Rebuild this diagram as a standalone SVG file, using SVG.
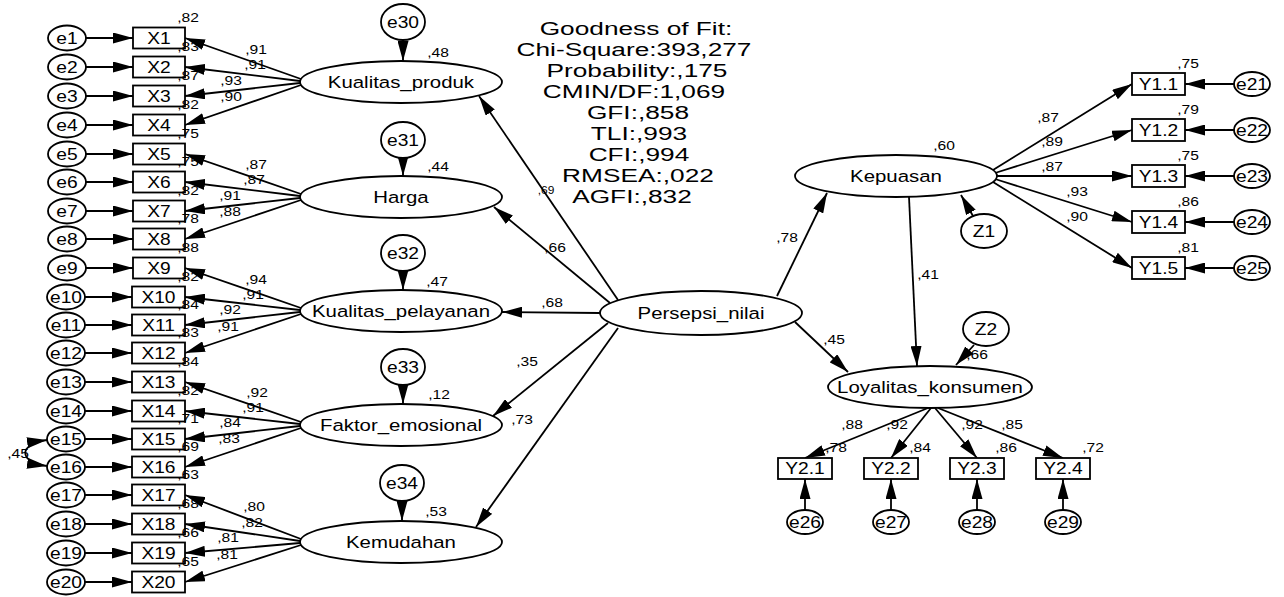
<svg xmlns="http://www.w3.org/2000/svg" width="1284" height="597" viewBox="0 0 1284 597">
<defs>
<marker id="ah" viewBox="0 0 20 11" refX="20" refY="5.5" markerWidth="20" markerHeight="11" orient="auto-start-reverse" markerUnits="userSpaceOnUse"><path d="M0,0 L20,5.5 L0,11 z" fill="#000"/></marker>
<style>
.n{fill:#fff;stroke:#000;stroke-width:1.8}
.c{fill:none;stroke:#000;stroke-width:1.8;marker-end:url(#ah)}
.cc{fill:none;stroke:#000;stroke-width:1.8;marker-start:url(#ah);marker-end:url(#ah)}
text{font-family:"Liberation Sans",Arial,sans-serif;fill:#000;text-anchor:middle;transform-box:fill-box;transform-origin:center;transform:scaleX(1.2)}
.sm{font-size:13px}
.nm{font-size:16px}
.lt{font-size:17px}
.gof text{font-size:18.5px;transform:scaleX(1.42)}
</style>
</defs>
<rect width="1284" height="597" fill="#fff"/>

<g id="connectors">
<path class="c" d="M86,38 H133"/><path class="c" d="M86,67 H133"/><path class="c" d="M86,96 H133"/><path class="c" d="M86,125 H133"/>
<path class="c" d="M86,154 H133"/><path class="c" d="M86,182 H133"/><path class="c" d="M86,211 H133"/><path class="c" d="M86,239 H133"/>
<path class="c" d="M86,268 H133"/><path class="c" d="M85,297 H132"/><path class="c" d="M85,325 H132"/><path class="c" d="M85,353 H132"/>
<path class="c" d="M85,382 H132"/><path class="c" d="M85,411 H132"/><path class="c" d="M85,439 H132"/><path class="c" d="M85,467 H132"/>
<path class="c" d="M85,495 H132"/><path class="c" d="M85,524 H132"/><path class="c" d="M85,553 H132"/><path class="c" d="M85,582 H132"/>
<path class="c" d="M301,79 L185,38"/><path class="c" d="M300,81 L185,67"/><path class="c" d="M300,83 L185,96"/><path class="c" d="M301,85 L185,125"/>
<path class="c" d="M301,194 L185,154"/><path class="c" d="M300,196 L185,182"/><path class="c" d="M300,198 L185,211"/><path class="c" d="M301,200 L185,239"/>
<path class="c" d="M301,308 L185,268"/><path class="c" d="M300,310 L185,297"/><path class="c" d="M300,312 L185,325"/><path class="c" d="M301,314 L185,353"/>
<path class="c" d="M301,422 L185,382"/><path class="c" d="M300,424 L185,411"/><path class="c" d="M300,426 L185,439"/><path class="c" d="M301,428 L185,467"/>
<path class="c" d="M301,539 L185,495"/><path class="c" d="M300,541 L185,524"/><path class="c" d="M300,543 L185,553"/><path class="c" d="M301,545 L185,582"/>
<path class="cc" d="M47,440 C18,444 18,462 47,466"/>
<path class="c" d="M403,40 V61"/>
<path class="c" d="M403,158 V176"/>
<path class="c" d="M403,271 V290"/>
<path class="c" d="M403,385 V404"/>
<path class="c" d="M402,501 V521"/>
<path class="c" d="M618,300 L479,96"/>
<path class="c" d="M610,303 L494,207"/>
<path class="c" d="M600,313 L502,312"/>
<path class="c" d="M608,323 L493,416"/>
<path class="c" d="M618,328 L476,527"/>
<path class="c" d="M777,296 L827,193"/>
<path class="c" d="M795,322 L848,372"/>
<path class="c" d="M909,197 L917,366"/>
<path class="c" d="M973,216 L961,195"/>
<path class="c" d="M974,345 L956,365"/>
<path class="c" d="M993,170 L1132,84"/>
<path class="c" d="M995,173 L1132,130"/>
<path class="c" d="M997,176 L1132,176"/>
<path class="c" d="M995,179 L1132,222"/>
<path class="c" d="M993,182 L1132,268"/>
<path class="c" d="M1234,84 H1185"/><path class="c" d="M1234,130 H1185"/><path class="c" d="M1234,176 H1185"/><path class="c" d="M1234,222 H1185"/><path class="c" d="M1234,268 H1185"/>
<path class="c" d="M928,408 L805,458"/>
<path class="c" d="M931,408 L891,458"/>
<path class="c" d="M935,408 L977,458"/>
<path class="c" d="M938,408 L1063,458"/>
<path class="c" d="M805,510 V479"/><path class="c" d="M891,510 V479"/><path class="c" d="M977,510 V479"/><path class="c" d="M1063,510 V479"/>

<g class="sm">
<text x="256" y="54">,91</text><text x="255" y="69">,91</text><text x="231" y="85">,93</text><text x="231" y="101">,90</text>
<text x="256" y="169">,87</text><text x="254" y="184">,87</text><text x="230" y="200">,91</text><text x="230" y="216">,88</text>
<text x="256" y="284">,94</text><text x="253" y="299">,91</text><text x="230" y="314">,92</text><text x="228" y="331">,91</text>
<text x="257" y="397">,92</text><text x="253" y="412">,91</text><text x="230" y="427">,84</text><text x="229" y="443">,83</text>
<text x="254" y="511">,80</text><text x="252" y="527">,82</text><text x="228" y="542">,81</text><text x="227" y="559">,81</text>
<text x="18" y="458">,45</text>
<text x="555" y="252">,66</text>
<text x="552" y="307">,68</text>
<text x="527" y="366">,35</text>
<text x="522" y="424">,73</text>
<text x="787" y="242">,78</text>
<text x="928" y="279">,41</text>
<text x="834" y="344">,45</text>
<text x="1048" y="122">,87</text><text x="1052" y="146">,89</text><text x="1052" y="171">,87</text><text x="1077" y="196">,93</text><text x="1077" y="221">,90</text>
<text x="852" y="429">,88</text><text x="897" y="429">,92</text><text x="972" y="429">,92</text><text x="1012" y="429">,85</text>
</g>
<text x="546" y="194" style="font-size:10px">,69</text>
</g>

<g id="gof" class="gof">
<text x="636" y="35">Goodness of Fit:</text>
<text x="634" y="56">Chi-Square:393,277</text>
<text x="637" y="77">Probability:,175</text>
<text x="634" y="98">CMIN/DF:1,069</text>
<text x="638" y="119">GFI:,858</text>
<text x="639" y="140">TLI:,993</text>
<text x="639" y="161">CFI:,994</text>
<text x="638" y="182">RMSEA:,022</text>
<text x="632" y="203">AGFI:,832</text>
</g>

<g id="e1"><ellipse class="n" cx="67" cy="38" rx="19" ry="12.5"/><text class="nm" x="67" y="44">e1</text></g>
<g id="e2"><ellipse class="n" cx="67" cy="67" rx="19" ry="12.5"/><text class="nm" x="67" y="73">e2</text></g>
<g id="e3"><ellipse class="n" cx="67" cy="96" rx="19" ry="12.5"/><text class="nm" x="67" y="102">e3</text></g>
<g id="e4"><ellipse class="n" cx="67" cy="125" rx="19" ry="12.5"/><text class="nm" x="67" y="131">e4</text></g>
<g id="e5"><ellipse class="n" cx="67" cy="154" rx="19" ry="12.5"/><text class="nm" x="67" y="160">e5</text></g>
<g id="e6"><ellipse class="n" cx="67" cy="182" rx="19" ry="12.5"/><text class="nm" x="67" y="188">e6</text></g>
<g id="e7"><ellipse class="n" cx="67" cy="211" rx="19" ry="12.5"/><text class="nm" x="67" y="217">e7</text></g>
<g id="e8"><ellipse class="n" cx="67" cy="239" rx="19" ry="12.5"/><text class="nm" x="67" y="245">e8</text></g>
<g id="e9"><ellipse class="n" cx="67" cy="268" rx="19" ry="12.5"/><text class="nm" x="67" y="274">e9</text></g>
<g id="e10"><ellipse class="n" cx="66" cy="297" rx="19" ry="12.5"/><text class="nm" x="66" y="303">e10</text></g>
<g id="e11"><ellipse class="n" cx="66" cy="325" rx="19" ry="12.5"/><text class="nm" x="66" y="331">e11</text></g>
<g id="e12"><ellipse class="n" cx="66" cy="353" rx="19" ry="12.5"/><text class="nm" x="66" y="359">e12</text></g>
<g id="e13"><ellipse class="n" cx="66" cy="382" rx="19" ry="12.5"/><text class="nm" x="66" y="388">e13</text></g>
<g id="e14"><ellipse class="n" cx="66" cy="411" rx="19" ry="12.5"/><text class="nm" x="66" y="417">e14</text></g>
<g id="e15"><ellipse class="n" cx="66" cy="439" rx="19" ry="12.5"/><text class="nm" x="66" y="445">e15</text></g>
<g id="e16"><ellipse class="n" cx="66" cy="467" rx="19" ry="12.5"/><text class="nm" x="66" y="473">e16</text></g>
<g id="e17"><ellipse class="n" cx="66" cy="495" rx="19" ry="12.5"/><text class="nm" x="66" y="501">e17</text></g>
<g id="e18"><ellipse class="n" cx="66" cy="524" rx="19" ry="12.5"/><text class="nm" x="66" y="530">e18</text></g>
<g id="e19"><ellipse class="n" cx="66" cy="553" rx="19" ry="12.5"/><text class="nm" x="66" y="559">e19</text></g>
<g id="e20"><ellipse class="n" cx="66" cy="582" rx="19" ry="12.5"/><text class="nm" x="66" y="588">e20</text></g>

<g id="X1"><rect class="n" x="133" y="27.5" width="52" height="21"/><text class="nm" x="159" y="44">X1</text><text class="sm" x="188" y="22">,82</text></g>
<g id="X2"><rect class="n" x="133" y="56.5" width="52" height="21"/><text class="nm" x="159" y="73">X2</text><text class="sm" x="188" y="51">,83</text></g>
<g id="X3"><rect class="n" x="133" y="85.5" width="52" height="21"/><text class="nm" x="159" y="102">X3</text><text class="sm" x="188" y="80">,87</text></g>
<g id="X4"><rect class="n" x="133" y="114.5" width="52" height="21"/><text class="nm" x="159" y="131">X4</text><text class="sm" x="188" y="109">,82</text></g>
<g id="X5"><rect class="n" x="133" y="143.5" width="52" height="21"/><text class="nm" x="159" y="160">X5</text><text class="sm" x="188" y="138">,75</text></g>
<g id="X6"><rect class="n" x="133" y="171.5" width="52" height="21"/><text class="nm" x="159" y="188">X6</text><text class="sm" x="188" y="166">,75</text></g>
<g id="X7"><rect class="n" x="133" y="200.5" width="52" height="21"/><text class="nm" x="159" y="217">X7</text><text class="sm" x="188" y="195">,82</text></g>
<g id="X8"><rect class="n" x="133" y="228.5" width="52" height="21"/><text class="nm" x="159" y="245">X8</text><text class="sm" x="188" y="223">,78</text></g>
<g id="X9"><rect class="n" x="133" y="257.5" width="52" height="21"/><text class="nm" x="159" y="274">X9</text><text class="sm" x="188" y="252">,88</text></g>
<g id="X10"><rect class="n" x="132" y="286.5" width="53" height="21"/><text class="nm" x="158.5" y="303">X10</text><text class="sm" x="188" y="281">,82</text></g>
<g id="X11"><rect class="n" x="132" y="314.5" width="53" height="21"/><text class="nm" x="158.5" y="331">X11</text><text class="sm" x="188" y="309">,84</text></g>
<g id="X12"><rect class="n" x="132" y="342.5" width="53" height="21"/><text class="nm" x="158.5" y="359">X12</text><text class="sm" x="188" y="337">,83</text></g>
<g id="X13"><rect class="n" x="132" y="371.5" width="53" height="21"/><text class="nm" x="158.5" y="388">X13</text><text class="sm" x="188" y="366">,84</text></g>
<g id="X14"><rect class="n" x="132" y="400.5" width="53" height="21"/><text class="nm" x="158.5" y="417">X14</text><text class="sm" x="188" y="395">,82</text></g>
<g id="X15"><rect class="n" x="132" y="428.5" width="53" height="21"/><text class="nm" x="158.5" y="445">X15</text><text class="sm" x="188" y="423">,71</text></g>
<g id="X16"><rect class="n" x="132" y="456.5" width="53" height="21"/><text class="nm" x="158.5" y="473">X16</text><text class="sm" x="188" y="451">,69</text></g>
<g id="X17"><rect class="n" x="132" y="484.5" width="53" height="21"/><text class="nm" x="158.5" y="501">X17</text><text class="sm" x="188" y="479">,63</text></g>
<g id="X18"><rect class="n" x="132" y="513.5" width="53" height="21"/><text class="nm" x="158.5" y="530">X18</text><text class="sm" x="188" y="508">,68</text></g>
<g id="X19"><rect class="n" x="132" y="542.5" width="53" height="21"/><text class="nm" x="158.5" y="559">X19</text><text class="sm" x="188" y="537">,66</text></g>
<g id="X20"><rect class="n" x="132" y="571.5" width="53" height="21"/><text class="nm" x="158.5" y="588">X20</text><text class="sm" x="188" y="566">,65</text></g>

<g id="e30"><ellipse class="n" cx="403" cy="22" rx="22" ry="18"/><text class="nm" x="403" y="28">e30</text></g>
<g id="e31"><ellipse class="n" cx="403" cy="140" rx="22" ry="18"/><text class="nm" x="403" y="146">e31</text></g>
<g id="e32"><ellipse class="n" cx="403" cy="253" rx="22" ry="18"/><text class="nm" x="403" y="259">e32</text></g>
<g id="e33"><ellipse class="n" cx="403" cy="367" rx="22" ry="18"/><text class="nm" x="403" y="373">e33</text></g>
<g id="e34"><ellipse class="n" cx="402" cy="483" rx="22" ry="18"/><text class="nm" x="402" y="489">e34</text></g>

<g id="Kualitas_produk"><ellipse class="n" cx="401" cy="82" rx="101" ry="21"/><text class="lt" x="401" y="88">Kualitas_produk</text><text class="sm" x="438" y="57">,48</text></g>
<g id="Harga"><ellipse class="n" cx="401" cy="197" rx="101" ry="21"/><text class="lt" x="401" y="203">Harga</text><text class="sm" x="438" y="171">,44</text></g>
<g id="Kualitas_pelayanan"><ellipse class="n" cx="401" cy="311" rx="101" ry="21"/><text class="lt" x="401" y="317">Kualitas_pelayanan</text><text class="sm" x="437" y="286">,47</text></g>
<g id="Faktor_emosional"><ellipse class="n" cx="401" cy="425" rx="101" ry="21"/><text class="lt" x="401" y="431">Faktor_emosional</text><text class="sm" x="439" y="399">,12</text></g>
<g id="Kemudahan"><ellipse class="n" cx="401" cy="542" rx="101" ry="21"/><text class="lt" x="401" y="548">Kemudahan</text><text class="sm" x="436" y="516">,53</text></g>

<g id="Persepsi_nilai"><ellipse class="n" cx="701" cy="313" rx="101" ry="22"/><text class="lt" x="701" y="319">Persepsi_nilai</text></g>

<g id="Kepuasan"><ellipse class="n" cx="896" cy="176" rx="101" ry="21"/><text class="lt" x="896" y="182">Kepuasan</text><text class="sm" x="944" y="150">,60</text></g>
<g id="Z1"><ellipse class="n" cx="984" cy="231" rx="23" ry="17"/><text class="nm" x="984" y="237">Z1</text></g>
<g id="Loyalitas_konsumen"><ellipse class="n" cx="930" cy="387" rx="102" ry="21"/><text class="lt" x="930" y="393">Loyalitas_konsumen</text><text class="sm" x="977" y="359">,66</text></g>
<g id="Z2"><ellipse class="n" cx="986" cy="329" rx="23" ry="17"/><text class="nm" x="986" y="335">Z2</text></g>

<g id="Y1.1"><rect class="n" x="1132" y="73" width="53" height="22"/><text class="nm" x="1158.5" y="90">Y1.1</text><text class="sm" x="1188" y="68">,75</text></g>
<g id="Y1.2"><rect class="n" x="1132" y="119" width="53" height="22"/><text class="nm" x="1158.5" y="136">Y1.2</text><text class="sm" x="1188" y="114">,79</text></g>
<g id="Y1.3"><rect class="n" x="1132" y="165" width="53" height="22"/><text class="nm" x="1158.5" y="182">Y1.3</text><text class="sm" x="1188" y="160">,75</text></g>
<g id="Y1.4"><rect class="n" x="1132" y="211" width="53" height="22"/><text class="nm" x="1158.5" y="228">Y1.4</text><text class="sm" x="1188" y="206">,86</text></g>
<g id="Y1.5"><rect class="n" x="1132" y="257" width="53" height="22"/><text class="nm" x="1158.5" y="274">Y1.5</text><text class="sm" x="1188" y="252">,81</text></g>
<g id="e21"><ellipse class="n" cx="1252" cy="84" rx="18" ry="12"/><text class="nm" x="1252" y="90">e21</text></g>
<g id="e22"><ellipse class="n" cx="1252" cy="130" rx="18" ry="12"/><text class="nm" x="1252" y="136">e22</text></g>
<g id="e23"><ellipse class="n" cx="1252" cy="176" rx="18" ry="12"/><text class="nm" x="1252" y="182">e23</text></g>
<g id="e24"><ellipse class="n" cx="1252" cy="222" rx="18" ry="12"/><text class="nm" x="1252" y="228">e24</text></g>
<g id="e25"><ellipse class="n" cx="1252" cy="268" rx="18" ry="12"/><text class="nm" x="1252" y="274">e25</text></g>

<g id="Y2.1"><rect class="n" x="778" y="458" width="54" height="21"/><text class="nm" x="805" y="474">Y2.1</text><text class="sm" x="836" y="452">,78</text></g>
<g id="Y2.2"><rect class="n" x="864" y="458" width="54" height="21"/><text class="nm" x="891" y="474">Y2.2</text><text class="sm" x="920" y="452">,84</text></g>
<g id="Y2.3"><rect class="n" x="950" y="458" width="54" height="21"/><text class="nm" x="977" y="474">Y2.3</text><text class="sm" x="1006" y="452">,86</text></g>
<g id="Y2.4"><rect class="n" x="1036" y="458" width="54" height="21"/><text class="nm" x="1063" y="474">Y2.4</text><text class="sm" x="1093" y="452">,72</text></g>
<g id="e26"><ellipse class="n" cx="805" cy="522" rx="18" ry="12"/><text class="nm" x="805" y="528">e26</text></g>
<g id="e27"><ellipse class="n" cx="891" cy="522" rx="18" ry="12"/><text class="nm" x="891" y="528">e27</text></g>
<g id="e28"><ellipse class="n" cx="977" cy="522" rx="18" ry="12"/><text class="nm" x="977" y="528">e28</text></g>
<g id="e29"><ellipse class="n" cx="1063" cy="522" rx="18" ry="12"/><text class="nm" x="1063" y="528">e29</text></g>
</svg>
